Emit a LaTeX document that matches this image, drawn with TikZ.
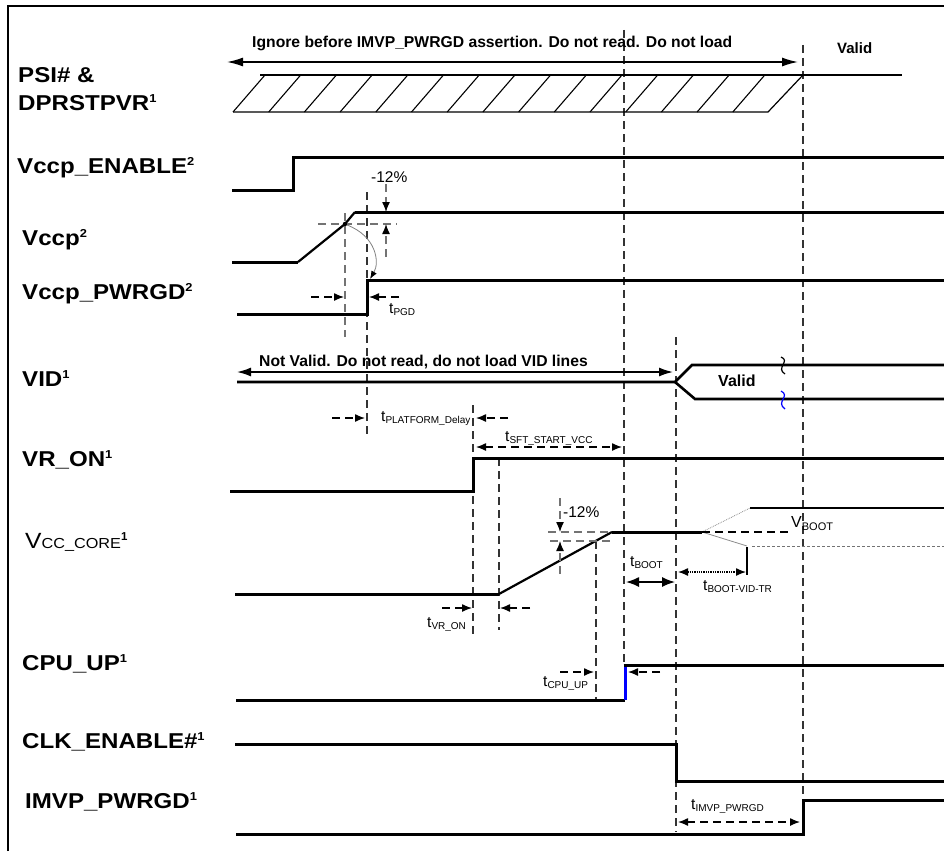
\documentclass[tikz,border=0pt]{standalone}
\usepackage{fontspec}
\setmainfont{Liberation Sans}
\newfontfamily\lblfont[FakeStretch=1.12]{Liberation Sans}
\usetikzlibrary{arrows.meta}
\newcommand\sigsup[1]{\raisebox{8pt}{\bfseries\fontsize{11.5}{12}\selectfont #1}}
\newcommand\tlab[1]{{\fontsize{15.5}{16}\selectfont t}\raisebox{-2.5pt}{\fontsize{10}{11}\selectfont #1}}
\begin{document}
\begin{tikzpicture}[x=1pt,y=-1pt,
  sig/.style={line width=3pt, line join=miter},
  vdash/.style={black!80, line width=1.3pt, dash pattern=on 8pt off 5pt},
  gdash/.style={black!55, line width=1.3pt, dash pattern=on 8pt off 5pt},
  tip/.style={-{Latex[length=10pt,width=8pt,color=black]}},
  dimarr/.style={line width=1.3pt, dash pattern=on 8pt off 5pt, tip},
  gdimarr/.style={black!55, line width=1.3pt, dash pattern=on 8pt off 5pt, tip},
  dimboth/.style={line width=1.3pt, dash pattern=on 8pt off 5pt, {Latex[length=10pt,width=8pt]}-{Latex[length=10pt,width=8pt]}},
  lbl/.style={anchor=base west, inner sep=0pt, font=\lblfont\bfseries\fontsize{21.5}{24}\selectfont},
  note/.style={anchor=base west, inner sep=0pt, font=\bfseries\fontsize{15.7}{18}\selectfont},
  tl/.style={anchor=base west, inner sep=0pt},
]
\useasboundingbox (0,0) rectangle (944,851);
% frame
\draw[line width=2pt] (8,851) -- (8,6) -- (944,6);

% signal labels
\node[lbl] (lpsi) at (18,82) {PSI\# \&};
\node[lbl] (ldpr) at (18,110) {DPRSTPVR\sigsup{1}};
\node[lbl] (lven) at (17,173) {Vccp\_ENABLE\sigsup{2}};
\node[lbl] (lvccp) at (22,245) {Vccp\sigsup{2}};
\node[lbl] (lvpg) at (22,299) {Vccp\_PWRGD\sigsup{2}};
\node[lbl] (lvid) at (22,386) {VID\sigsup{1}};
\node[lbl] (lvron) at (22,466) {VR\_ON\sigsup{1}};
\node[anchor=base west, inner sep=0pt] (lvcc) at (25,548) {{\lblfont\fontsize{22}{24}\selectfont V}{\lblfont\fontsize{14.5}{16}\selectfont CC\_CORE}\sigsup{1}};
\node[lbl] (lcpu) at (22,670) {CPU\_UP\sigsup{1}};
\node[lbl] (lclk) at (22,748) {CLK\_ENABLE\#\sigsup{1}};
\node[lbl] (limvp) at (25,808) {IMVP\_PWRGD\sigsup{1}};

% vertical dashed reference lines
\draw[vdash] (624,30) -- (624,663);
\draw[vdash] (803,45) -- (803,798);
\draw[vdash] (676,337) -- (676,832);
\draw[vdash] (367,192) -- (367,437);
\draw[gdash] (345,213) -- (345,337);
\draw[vdash] (473,405) -- (473,635);
\draw[vdash] (499,458) -- (499,630);
\draw[vdash] (596,541) -- (596,700);

% PSI# & DPRSTPVR
\node[note] (nign) at (252,48) {Ignore before IMVP\_PWRGD assertion. Do not read. Do not load};
\draw[line width=1.5pt, {Latex[length=16pt,width=9pt]}-{Latex[length=16pt,width=9pt]}] (227,62) -- (798,62);
\draw[line width=1.2pt] (233,112) -- (768,112) -- (803,75);
\draw[line width=1.5pt] (260,75) -- (902,75);
\foreach \k in {0,...,14} \draw[line width=1.1pt] (233+35.7*\k,112) -- (265+35.7*\k,75);
\node[note, font=\bfseries\fontsize{15}{18}\selectfont] (nval1) at (837,53) {Valid};

% Vccp_ENABLE
\draw[sig] (232,190) -- (293,190) -- (293,157) -- (944,157);

% Vccp
\draw[sig] (232,262) -- (298,262);
\draw[line width=2.2pt] (298,262) -- (345,224) -- (355,212);
\draw[sig] (355,212) -- (944,212);
\draw[gdash] (318,224) -- (397,224);
\fill (345,224) circle (2.2);
\node[anchor=base west, inner sep=0pt, font=\fontsize{15.5}{18}\selectfont] (np1) at (371,182) {-12\%};
\draw[gdimarr] (386,184) -- (386,212);
\draw[gdimarr] (386,257) -- (386,224);
\draw[black!50, line width=0.8pt, -{Latex[length=8pt,width=6pt,color=black]}] (347,225) .. controls (376,236) and (380,262) .. (370,279);

% Vccp_PWRGD
\draw[sig] (237,314) -- (367,314) -- (367,280) -- (944,280);
\draw[dimarr] (311,297) -- (344,297);
\draw[dimarr] (399,297) -- (369,297);
\node[tl] (tpgd) at (389,313) {\tlab{PGD}};

% VID
\node[note] (nnv) at (259,366) {Not Valid. Do not read, do not load VID lines};
\draw[line width=1.5pt, {Latex[length=14pt,width=9pt]}-{Latex[length=14pt,width=9pt]}] (237,372) -- (673,372);
\draw[line width=2.6pt] (237,382) -- (675,382) -- (692,365) -- (944,365);
\draw[line width=2.6pt] (675,382) -- (695,399) -- (944,399);
\node[note, font=\bfseries\fontsize{16}{18}\selectfont] (nval2) at (718,386) {Valid};
\draw[line width=1.2pt] (781,357) .. controls (791,361) and (775,368) .. (785,374);
\draw[line width=1.2pt, blue] (781,391) .. controls (791,396) and (775,402) .. (785,409);

% tPLATFORM_Delay and tSFT_START_VCC
\draw[dimarr] (332,418) -- (365,418);
\draw[dimarr] (508,418) -- (476,418);
\node[tl] (tplat) at (381,421) {\tlab{PLATFORM\_Delay}};
\draw[dimboth] (476,447) -- (622,447);
\node[tl] (tsft) at (505,441) {\tlab{SFT\_START\_VCC}};

% VR_ON
\draw[sig] (230,491) -- (473,491) -- (473,458) -- (944,458);

% Vcc_core
\draw[sig] (235,594) -- (499,594);
\draw[line width=2.2pt] (499,594) -- (612,532);
\draw[sig] (612,532) -- (702,532);
\draw[black!45, line width=0.8pt, densely dotted] (702,532) -- (750,508);
\draw[line width=2pt] (750,508) -- (944,508);
\draw[black!45, line width=0.8pt] (702,532) -- (747,546);
\draw[black!55, line width=1pt, dash pattern=on 3pt off 2pt] (752,546) -- (944,546);
\draw[line width=1.3pt, dash pattern=on 8pt off 5pt] (702,532) -- (790,532);
\draw[line width=1.3pt] (747,547) -- (747,575);
\node[anchor=base west, inner sep=0pt] (vboot) at (791,527) {{\fontsize{16}{18}\selectfont V}\raisebox{-3pt}{\fontsize{11}{12}\selectfont BOOT}};
\draw[gdash] (548,532) -- (612,532);
\draw[gdash] (550,541) -- (612,541);
\node[anchor=base west, inner sep=0pt, font=\fontsize{15.5}{18}\selectfont] (np2) at (563,517) {-12\%};
\draw[gdimarr] (560,498) -- (560,532);
\draw[gdimarr] (560,574) -- (560,541);
\draw[dimarr] (442,608) -- (472,608);
\draw[dimarr] (530,608) -- (500,608);
\node[tl] (tvron) at (427,627) {\tlab{VR\_ON}};
\draw[line width=1.5pt, {Latex[length=13pt,width=10pt]}-{Latex[length=13pt,width=10pt]}] (626,582) -- (675,582);
\node[tl] (tboot) at (630,566) {\tlab{BOOT}};
\draw[line width=1.3pt, densely dotted, {Latex[length=10pt,width=8pt]}-{Latex[length=10pt,width=8pt]}] (678,572) -- (746,572);
\node[tl] (tbvt) at (703,590) {\tlab{BOOT-VID-TR}};

% CPU_UP
\draw[sig] (236,700) -- (625,700);
\draw[sig, blue] (625,700) -- (625,664);
\draw[sig] (623.5,665) -- (944,665);
\draw[dimarr] (560,672) -- (594,672);
\draw[dimarr] (660,672) -- (628,672);
\node[tl] (tcpu) at (543,686) {\tlab{CPU\_UP}};

% CLK_ENABLE#
\draw[sig] (235,744) -- (676,744) -- (676,781) -- (944,781);

% IMVP_PWRGD
\draw[sig] (236,834) -- (803,834) -- (803,800) -- (944,800);
\draw[dimboth] (678,822) -- (800,822);
\node[tl] (timvp) at (691,809) {\tlab{IMVP\_PWRGD}};
\end{tikzpicture}
\end{document}
